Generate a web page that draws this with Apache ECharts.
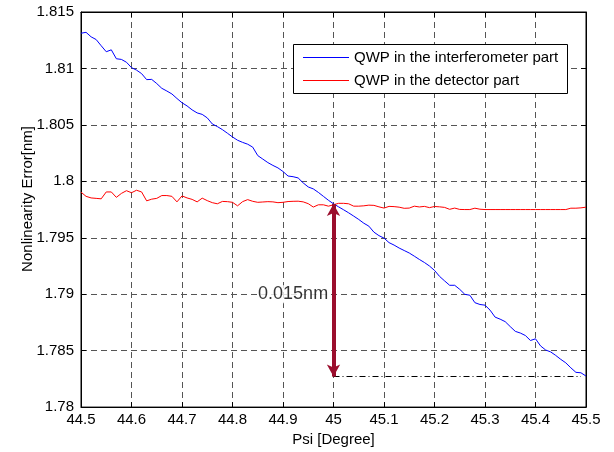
<!DOCTYPE html>
<html>
<head>
<meta charset="utf-8">
<script src="https://cdn.jsdelivr.net/npm/echarts@6/dist/echarts.min.js"></script>
<style>
html,body{margin:0;padding:0;background:#fff;}
#main{width:614px;height:452px;}
</style>
</head>
<body>
<div id="main"></div>
<script>
var psi = [44.50,44.51,44.52,44.53,44.54,44.55,44.56,44.57,44.58,44.59,
44.60,44.61,44.62,44.63,44.64,44.65,44.66,44.67,44.68,44.69,
44.70,44.71,44.72,44.73,44.74,44.75,44.76,44.77,44.78,44.79,
44.80,44.81,44.82,44.83,44.84,44.85,44.86,44.87,44.88,44.89,
44.90,44.91,44.92,44.93,44.94,44.95,44.96,44.97,44.98,44.99,
45.00,45.01,45.02,45.03,45.04,45.05,45.06,45.07,45.08,45.09,
45.10,45.11,45.12,45.13,45.14,45.15,45.16,45.17,45.18,45.19,
45.20,45.21,45.22,45.23,45.24,45.25,45.26,45.27,45.28,45.29,
45.30,45.31,45.32,45.33,45.34,45.35,45.36,45.37,45.38,45.39,
45.40,45.41,45.42,45.43,45.44,45.45,45.46,45.47,45.48,45.49,
45.50];

var interferometer = [1.81312,1.81320,1.81280,1.81256,1.81201,1.81148,1.81165,1.81086,1.81080,1.81055,
1.81007,1.80985,1.80954,1.80901,1.80903,1.80866,1.80824,1.80800,1.80774,1.80734,
1.80696,1.80668,1.80633,1.80606,1.80593,1.80562,1.80508,1.80485,1.80458,1.80426,
1.80393,1.80364,1.80345,1.80329,1.80303,1.80228,1.80197,1.80166,1.80141,1.80119,
1.80087,1.80047,1.80041,1.80030,1.79986,1.79950,1.79933,1.79902,1.79867,1.79832,
1.79801,1.79774,1.79748,1.79721,1.79692,1.79662,1.79629,1.79603,1.79550,1.79519,
1.79497,1.79457,1.79435,1.79409,1.79387,1.79365,1.79337,1.79308,1.79281,1.79250,
1.79211,1.79158,1.79118,1.79079,1.79079,1.79043,1.78999,1.78991,1.78925,1.78909,
1.78903,1.78859,1.78797,1.78779,1.78757,1.78713,1.78671,1.78656,1.78634,1.78590,
1.78605,1.78542,1.78506,1.78489,1.78458,1.78423,1.78392,1.78348,1.78308,1.78304,
1.78275];

var detector = [1.79904,1.79867,1.79853,1.79849,1.79845,1.79906,1.79906,1.79858,1.79893,1.79917,
1.79899,1.79921,1.79906,1.79827,1.79842,1.79849,1.79874,1.79874,1.79867,1.79818,
1.79871,1.79853,1.79840,1.79818,1.79851,1.79829,1.79811,1.79801,1.79822,1.79820,
1.79814,1.79783,1.79820,1.79838,1.79823,1.79814,1.79817,1.79820,1.79818,1.79811,
1.79814,1.79821,1.79823,1.79824,1.79818,1.79802,1.79772,1.79792,1.79792,1.79780,
1.79792,1.79805,1.79805,1.79801,1.79780,1.79780,1.79783,1.79789,1.79787,1.79774,
1.79763,1.79778,1.79776,1.79771,1.79761,1.79763,1.79780,1.79773,1.79778,1.79767,
1.79777,1.79774,1.79769,1.79752,1.79763,1.79751,1.79750,1.79750,1.79762,1.79753,
1.79750,1.79750,1.79750,1.79750,1.79750,1.79750,1.79750,1.79750,1.79750,1.79750,
1.79750,1.79750,1.79750,1.79750,1.79750,1.79750,1.79750,
1.79762,1.79762,1.79765,1.79771];

var seriesNames = ['QWP in the interferometer part', 'QWP in the detector part'];
var seriesColors = ['#0000ff', '#ff0000'];
var arrowX = [45, 45];
var arrowY = [1.798, 1.7827];
var refLineX = [45, 45.49];
var refLineY = [1.7827, 1.7827];
var noteText = '0.015nm';
var notePos = [44.92, 1.79];
var xName = 'Psi [Degree]';
var yName = 'Nonlinearity Error[nm]';

function pair(xs, ys){ return xs.map(function(x,i){ return [x, ys[i]]; }); }

var FONT = '"Liberation Sans", Arial, sans-serif';
var chart = echarts.init(document.getElementById('main'), null, {renderer:'canvas'});
var gridDash = {color:'#555', width:1, type:[6,4]};

// legend drawn as graphic elements
var legendEls = [{
  type:'rect', shape:{x:293.5, y:44.5, width:274, height:49},
  style:{fill:'#fff', stroke:'#000', lineWidth:1}, z:100
}];
seriesNames.forEach(function(n, i){
  var cy = 57.5 + i * 23;
  legendEls.push({type:'line', shape:{x1:303, y1:cy, x2:349, y2:cy},
    style:{stroke:seriesColors[i], lineWidth:1}, z:101});
  legendEls.push({type:'text', x:354, y:cy,
    style:{text:n, font:'15px ' + FONT, fill:'#000', textVerticalAlign:'middle', verticalAlign:'middle'}, z:101});
});

var option = {
  animation:false,
  backgroundColor:'#fff',
  color:seriesColors,
  textStyle:{fontFamily:FONT},
  grid:{left:81, right:28, top:12, bottom:42, show:true, borderColor:'#000', borderWidth:1, backgroundColor:'#fff'},
  xAxis:[{
    type:'value', min:44.5, max:45.5, interval:0.1,
    name:xName, nameLocation:'middle', nameGap:24,
    nameTextStyle:{fontSize:15, color:'#000', fontFamily:FONT},
    axisLine:{lineStyle:{color:'#000', width:1}},
    axisTick:{inside:true, length:5, lineStyle:{color:'#000'}},
    axisLabel:{fontSize:15, color:'#000', margin:5, fontFamily:FONT,
      formatter:function(v){ return String(parseFloat(v.toFixed(1))); }},
    splitLine:{show:true, lineStyle:gridDash}
  },{
    type:'value', position:'top', min:44.5, max:45.5, interval:0.1,
    axisLine:{lineStyle:{color:'#000'}},
    axisTick:{inside:true, length:5, lineStyle:{color:'#000'}},
    axisLabel:{show:false}, splitLine:{show:false}
  }],
  yAxis:[{
    type:'value', min:1.78, max:1.815, interval:0.005,
    axisLine:{show:true, lineStyle:{color:'#000', width:1}},
    axisTick:{show:true, inside:true, length:5, lineStyle:{color:'#000'}},
    axisLabel:{fontSize:15, color:'#000', margin:7, fontFamily:FONT,
      formatter:function(v){ return String(parseFloat(v.toFixed(3))); }},
    splitLine:{show:true, lineStyle:gridDash}
  },{
    type:'value', position:'right', min:1.78, max:1.815, interval:0.005,
    axisLine:{show:true, lineStyle:{color:'#000'}},
    axisTick:{show:true, inside:true, length:5, lineStyle:{color:'#000'}},
    axisLabel:{show:false}, splitLine:{show:false}
  }],
  graphic:[{
    type:'text', left:20, top:126, rotation:Math.PI/2,
    style:{text:yName, font:'15px ' + FONT, fill:'#000'}
  }].concat(legendEls),
  series:[
    {name:seriesNames[0], type:'line', data:pair(psi, interferometer), symbol:'none',
     lineStyle:{color:seriesColors[0], width:1}, itemStyle:{color:seriesColors[0]}, z:3},
    {name:seriesNames[1], type:'line', data:pair(psi, detector), symbol:'none',
     lineStyle:{color:seriesColors[1], width:1}, itemStyle:{color:seriesColors[1]}, z:2},
    {name:'annot', type:'line', data:[], z:5,
     markLine:{silent:true, animation:false,
       data:[
         [{coord:[refLineX[0], refLineY[0]], symbol:'none', lineStyle:{color:'#000', width:1, type:[6,3,1,3]}},
          {coord:[refLineX[1], refLineY[1]], symbol:'none'}],
         [{coord:[arrowX[0], arrowY[0]], symbol:'arrow', symbolSize:[10,12], lineStyle:{color:'#9b0e2d', width:4, type:'solid'}},
          {coord:[arrowX[1], arrowY[1]], symbol:'arrow', symbolSize:[10,12]}]
       ],
       label:{show:false}
     }},
    {name:'note', type:'scatter', data:[notePos], symbolSize:0, z:4,
     label:{show:true, position:'inside', formatter:noteText, fontSize:18, color:'#000',
       fontFamily:FONT, backgroundColor:'#fff', padding:[0,1]}}
  ]
};
chart.setOption(option);
</script>
</body>
</html>
